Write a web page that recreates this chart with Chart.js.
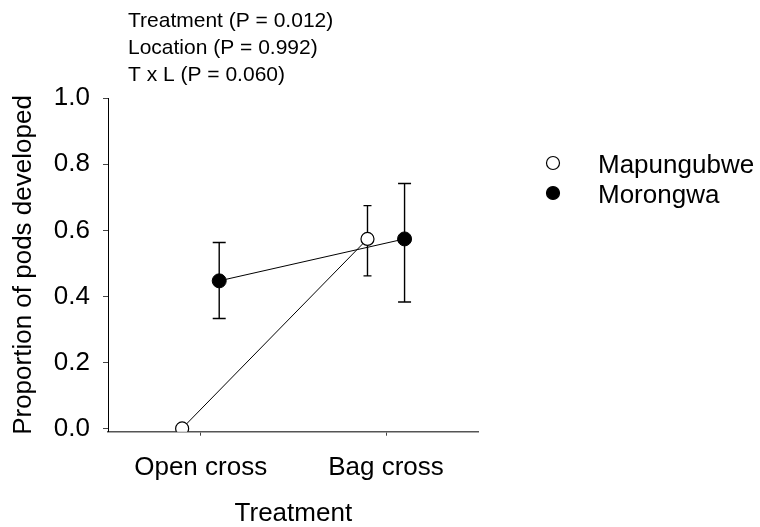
<!DOCTYPE html>
<html>
<head>
<meta charset="utf-8">
<script src="https://cdn.jsdelivr.net/npm/chart.js@4.4.1/dist/chart.umd.min.js"></script>
<style>
  html, body { margin: 0; padding: 0; background: #fff; }
  #wrap { width: 760px; height: 527px; position: relative; }
</style>
</head>
<body>
<div id="wrap"><canvas id="c" width="760" height="527"></canvas></div>
<script>
// Proportion of pods developed, by pollination treatment and location
const treatments = ['Open cross', 'Bag cross'];
const seriesNames = ['Mapungubwe', 'Morongwa'];
const mapungubweMean = [0.0, 0.574];
const mapungubweLow = [null, 0.462];
const mapungubweHigh = [null, 0.675];
const morongwaMean = [0.447, 0.574];
const morongwaLow = [0.333, 0.383];
const morongwaHigh = [0.563, 0.742];
const yTicks = [0.0, 0.2, 0.4, 0.6, 0.8, 1.0];
const statLines = ['Treatment (P = 0.012)', 'Location (P = 0.992)', 'T x L (P = 0.060)'];

const FONT = 'Liberation Sans, Arial, Helvetica, sans-serif';
const dodge = 0.1; // side-by-side shift of the two locations within a treatment

function series(means, shift) {
  return treatments.map((t, i) => ({ x: i + 1 + shift, y: means[i] }));
}

// vertical error bars with end caps
const errorBars = {
  id: 'errorBars',
  beforeDatasetsDraw(chart) {
    const { ctx, scales: { x, y } } = chart;
    ctx.save();
    ctx.strokeStyle = '#000';
    ctx.lineWidth = 1.4;
    chart.data.datasets.forEach(ds => {
      ds.data.forEach((p, i) => {
        const lo = ds.errLow[i], hi = ds.errHigh[i];
        if (lo == null || hi == null) return;
        const px = x.getPixelForValue(p.x);
        const yl = y.getPixelForValue(lo), yh = y.getPixelForValue(hi);
        const c = ds.capHalf;
        ctx.beginPath();
        ctx.moveTo(px, yl); ctx.lineTo(px, yh);
        ctx.moveTo(px - c, yl); ctx.lineTo(px + c, yl);
        ctx.moveTo(px - c, yh); ctx.lineTo(px + c, yh);
        ctx.stroke();
      });
    });
    ctx.restore();
  }
};

// legend to the right of the plot, plus the statistics note above it
const sideText = {
  id: 'sideText',
  afterDraw(chart) {
    const { ctx } = chart;
    ctx.save();
    ctx.fillStyle = '#000';
    ctx.textAlign = 'left';
    ctx.textBaseline = 'alphabetic';
    ctx.font = '21px ' + FONT;
    statLines.forEach((s, i) => ctx.fillText(s, 128, 27 + i * 26.8));

    ctx.font = '26px ' + FONT;
    chart.data.datasets.forEach((ds, i) => {
      const cy = 163 + i * 30;
      ctx.beginPath();
      ctx.arc(553, cy, 6.5, 0, Math.PI * 2);
      ctx.fillStyle = ds.pointBackgroundColor;
      ctx.fill();
      ctx.lineWidth = 1.2;
      ctx.strokeStyle = ds.pointBorderColor;
      ctx.stroke();
      ctx.fillStyle = '#000';
      ctx.fillText(ds.label, 598, cy + 9.5);
    });
    ctx.restore();
  }
};

new Chart(document.getElementById('c'), {
  type: 'line',
  data: {
    datasets: [
      {
        label: seriesNames[0],
        data: series(mapungubweMean, -dodge),
        errLow: mapungubweLow,
        errHigh: mapungubweHigh,
        capHalf: 4,
        borderColor: '#000',
        borderWidth: 1,
        pointRadius: 6.5,
        pointBackgroundColor: '#fff',
        pointBorderColor: '#000',
        pointBorderWidth: 1.2,
        fill: false,
        tension: 0
      },
      {
        label: seriesNames[1],
        data: series(morongwaMean, dodge),
        errLow: morongwaLow,
        errHigh: morongwaHigh,
        capHalf: 6.5,
        borderColor: '#000',
        borderWidth: 1,
        pointRadius: 7,
        pointBackgroundColor: '#000',
        pointBorderColor: '#000',
        pointBorderWidth: 1,
        fill: false,
        tension: 0
      }
    ]
  },
  options: {
    responsive: false,
    animation: false,
    devicePixelRatio: 1,
    layout: { padding: { top: 98.3, right: 281.3, bottom: 0, left: 0 } },
    plugins: { legend: { display: false }, tooltip: { enabled: false } },
    scales: {
      x: {
        type: 'linear',
        min: 0.5,
        max: 2.5,
        afterBuildTicks: s => { s.ticks = treatments.map((t, i) => ({ value: i + 1 })); },
        afterFit: s => { s.height = 95.3; },
        ticks: {
          callback: v => treatments[Math.round(v) - 1],
          font: { family: FONT, size: 26 },
          color: '#000',
          padding: 17,
          maxRotation: 0,
          autoSkip: false
        },
        grid: { drawOnChartArea: false, drawTicks: true, tickLength: 4, color: '#444', lineWidth: 1 },
        border: { display: true, color: '#555', width: 1.5 },
        title: { display: true, text: 'Treatment', color: '#000', font: { family: FONT, size: 26 }, padding: { top: 0, bottom: -2 } }
      },
      y: {
        type: 'linear',
        min: -0.01,
        max: 1.0,
        afterBuildTicks: s => { s.ticks = yTicks.map(v => ({ value: v })); },
        afterFit: s => { s.width = 108; },
        ticks: {
          callback: v => Number(v).toFixed(1),
          font: { family: FONT, size: 26 },
          color: '#000',
          padding: 13
        },
        grid: { drawOnChartArea: false, drawTicks: true, tickLength: 5, color: '#444', lineWidth: 1 },
        border: { display: true, color: '#000', width: 1 },
        title: { display: true, text: 'Proportion of pods developed', color: '#000', font: { family: FONT, size: 26 }, padding: { top: 8, bottom: 0 } }
      }
    }
  },
  plugins: [errorBars, sideText]
});
</script>
</body>
</html>
